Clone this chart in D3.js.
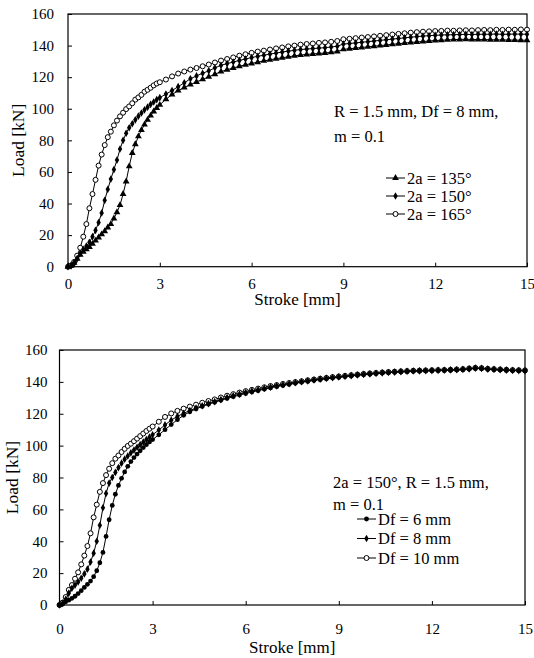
<!DOCTYPE html>
<html>
<head>
<meta charset="utf-8">
<script src="https://cdn.jsdelivr.net/npm/d3@7"></script>
<style>
  body { margin: 0; background: #fff; }
  svg text { font-family: "Liberation Serif", "Times New Roman", serif; fill: #000; }
</style>
</head>
<body>
<div id="chart"></div>
<script>
// Stroke positions (mm) shared by all curves
const stroke = [0, 0.1, 0.2, 0.3, 0.4, 0.5, 0.6, 0.7, 0.8, 0.9,
  1.0, 1.1, 1.2, 1.3, 1.4, 1.5, 1.6, 1.7, 1.8, 1.9,
  2.0, 2.1, 2.2, 2.3, 2.4, 2.5, 2.6, 2.7, 2.8, 2.9,
  3.0, 3.2, 3.4, 3.6, 3.8, 4.0, 4.2, 4.4, 4.6, 4.8,
  5.0, 5.2, 5.4, 5.6, 5.8, 6.0, 6.2, 6.4, 6.6, 6.8,
  7.0, 7.2, 7.4, 7.6, 7.8, 8.0, 8.2, 8.4, 8.6, 8.8,
  9.0, 9.2, 9.4, 9.6, 9.8, 10.0, 10.2, 10.4, 10.6, 10.8,
  11.0, 11.2, 11.4, 11.6, 11.8, 12.0, 12.2, 12.4, 12.6, 12.8,
  13.0, 13.2, 13.4, 13.6, 13.8, 14.0, 14.2, 14.4, 14.6, 14.8,
  15.0]

// Oberes Diagramm: Load [kN] fuer 2a = 135, 150, 165 Grad
const load135 = [0, 0.5, 2.5, 5, 7.5, 9.5, 11, 12.5, 14.5, 16.5,
  18.5, 20.5, 22.5, 24.8, 27, 30.5, 34.5, 39, 46, 54,
  63.5, 72, 77.5, 82.5, 86.5, 90, 93, 95.7, 98.3, 100.5,
  102.5, 106, 109, 111.5, 113.5, 115.3, 117, 118.6, 120.2, 121.9,
  123.5, 124.7, 125.8, 126.9, 127.8, 128.7, 129.5, 130.3, 131, 131.7,
  132.3, 132.9, 133.5, 134, 134.4, 134.7, 135, 135.3, 135.7, 136.2,
  137.6, 138, 138.4, 138.8, 139.2, 139.6, 140, 140.4, 140.8, 141.2,
  141.6, 142, 142.3, 142.6, 142.9, 143.2, 143.4, 143.6, 143.8, 143.9,
  144, 143.9, 143.8, 143.8, 143.7, 143.6, 143.6, 143.5, 143.5, 143.4,
  143.4]
const load150 = [0, 0.5, 2, 5, 8.5, 11, 13, 15.5, 19, 23,
  28, 34, 42, 49, 55.5, 61.5, 67.5, 74.5, 80, 84.5,
  88, 90.5, 93, 95.3, 97.3, 99.3, 101, 102.8, 104.3, 105.8,
  107, 109.3, 111.5, 114, 116.4, 119, 120.8, 122.5, 124, 125.9,
  127.5, 128.6, 129.6, 130.6, 131.5, 132.4, 133.2, 133.9, 134.6, 135.3,
  135.9, 136.5, 137, 137.5, 137.8, 138.1, 138.4, 138.7, 139.1, 139.6,
  141, 141.3, 141.7, 142.1, 142.5, 142.9, 143.3, 143.7, 144.1, 144.5,
  144.9, 145.3, 145.7, 146, 146.3, 146.5, 146.7, 146.8, 146.9, 147,
  147.1, 147, 147.2, 147.1, 147.2, 147.3, 147.1, 147.2, 147.3, 147.2,
  147.2]
const load165 = [0, 0.8, 3, 7, 12, 19, 27, 37, 46, 55,
  64, 71, 77, 82, 85.5, 89.5, 92.5, 95.2, 97.5, 99.8,
  101.5, 103.5, 105.8, 107.2, 108.8, 110.8, 112, 113.3, 114.8, 116,
  116.8, 118.5, 120.5, 122.3, 123.6, 124.8, 125.8, 126.9, 128, 129.3,
  130.5, 131.5, 132.5, 133.6, 134.5, 135.4, 136.2, 136.8, 137.5, 138.2,
  138.8, 139.5, 140, 140.6, 141, 141.3, 141.7, 142, 142.4, 142.9,
  144, 144.3, 144.7, 145.1, 145.4, 145.8, 146.2, 146.6, 147, 147.4,
  147.8, 148.2, 148.5, 148.8, 149, 149.2, 149.3, 149.5, 149.4, 149.6,
  149.7, 149.6, 149.8, 149.9, 149.8, 150, 149.9, 150.1, 150, 150.2,
  150.1]

// Unteres Diagramm: Load [kN] fuer Df = 6, 8, 10 mm
const loadDf6 = [0, 0.5, 2, 3, 4.2, 5.5, 7.2, 9, 11, 13,
  15, 17.8, 21.5, 26.5, 33, 43, 53.5, 62.5, 69.5, 75,
  79.5, 83.5, 87, 90, 92.5, 94.7, 96.8, 98.8, 100.6, 102.3,
  103.8, 106.8, 110, 113.2, 116.3, 119, 121.2, 123, 124.6, 126,
  127.2, 128.4, 129.6, 130.7, 131.7, 132.7, 133.6, 134.5, 135.4, 136.2,
  137, 137.7, 138.4, 139.1, 139.7, 140.3, 140.9, 141.4, 141.9, 142.4,
  142.8, 143.3, 143.7, 144.1, 144.5, 144.8, 145.2, 145.5, 145.8, 146,
  146.2, 146.4, 146.6, 146.7, 146.8, 147, 147.1, 147.2, 147.3, 147.4,
  147.6, 148, 148.4, 148.3, 147.9, 147.6, 147.4, 147.2, 147.1, 147,
  146.9]
const loadDf8 = [0, 1, 3.5, 7.5, 10.5, 12.5, 14.5, 16.8, 19.5, 22.5,
  27, 32.5, 40, 50, 61, 70, 76.5, 80, 83.2, 86.2,
  89, 91.5, 93.5, 95.5, 97.2, 99, 100.6, 102.2, 103.8, 105.3,
  106.8, 109.8, 113, 116, 118.4, 120.3, 122, 123.6, 125, 126.4,
  127.6, 128.9, 130.2, 131.3, 132.3, 133.3, 134.2, 135, 135.9, 136.7,
  137.5, 138.2, 138.8, 139.5, 140.1, 140.6, 141.2, 141.7, 142.2, 142.7,
  143.1, 143.5, 143.9, 144.3, 144.7, 145, 145.3, 145.6, 145.9, 146.1,
  146.4, 146.6, 146.8, 146.9, 147, 147.1, 147.2, 147.3, 147.5, 147.6,
  147.8, 148.2, 148.6, 148.5, 148, 147.8, 147.6, 147.4, 147.2, 147.1,
  147]
const loadDf10 = [0, 1.5, 5, 9.5, 12.5, 16.5, 20.5, 25.5, 31, 37,
  45, 55, 63, 71, 76.5, 81.5, 85.5, 89, 91.8, 93.8,
  96, 98, 99.8, 101.2, 102.8, 104.4, 106, 107.6, 109.2, 110.6,
  112, 115, 118, 120.2, 121.8, 123.2, 124.5, 125.7, 126.9, 128,
  129, 130.2, 131.3, 132.3, 133.3, 134.2, 135, 135.8, 136.6, 137.4,
  138, 138.7, 139.3, 139.9, 140.4, 141, 141.5, 142, 142.5, 143,
  143.4, 143.8, 144.2, 144.6, 145, 145.3, 145.6, 145.9, 146.2, 146.4,
  146.6, 146.8, 147, 147.1, 147.2, 147.3, 147.4, 147.5, 147.6, 147.8,
  148, 148.4, 148.8, 148.6, 148.2, 148, 147.8, 147.6, 147.4, 147.3,
  147.2]

// Achsenbeschriftungen
const xTicks = [0, 3, 6, 9, 12, 15]
const yTicks = [0, 20, 40, 60, 80, 100, 120, 140, 160]
const angleLabels = ["2a = 135°", "2a = 150°", "2a = 165°"]
const dfLabels = ["Df = 6 mm", "Df = 8 mm", "Df = 10 mm"]

const width = 534
const height = 658

let svg = d3.select("#chart")
    .append("svg")
    .attr("width", width)
    .attr("height", height)

// Marker-Formen
function marker(g, type, cx, cy) {
    if (type === "circle") {
        g.append("circle").attr("cx", cx).attr("cy", cy).attr("r", 2.5)
            .attr("fill", "#fff").attr("stroke", "#000").attr("stroke-width", 1)
    } else if (type === "dot") {
        g.append("circle").attr("cx", cx).attr("cy", cy).attr("r", 2.4)
            .attr("fill", "#000")
    } else {
        let sym = type === "triangle" ? d3.symbolTriangle : d3.symbolDiamond
        let size = type === "triangle" ? 20 : 17
        g.append("path")
            .attr("d", d3.symbol().type(sym).size(size)())
            .attr("transform", "translate(" + cx + "," + cy + ")")
            .attr("fill", "#000")
    }
}

function panel(p) {
    var x = d3.scaleLinear().domain([0, 15]).range([p.left, p.right])
    var y = d3.scaleLinear().domain([0, 160]).range([p.bottom, p.top])

    var g = svg.append("g")

    // Achsen
    var xa = g.append("g")
        .attr("transform", "translate(0," + p.bottom + ")")
        .call(d3.axisBottom(x).tickValues(xTicks).tickSize(-4).tickPadding(p.xPad))
    var ya = g.append("g")
        .attr("transform", "translate(" + p.left + ",0)")
        .call(d3.axisLeft(y).tickValues(yTicks).tickSize(-4).tickPadding(p.yPad))
    ;[xa, ya].forEach(function (a) {
        a.select(".domain").remove()
        a.attr("font-family", null).attr("font-size", 15)
        a.selectAll("line").attr("stroke", "#000")
    })

    // Rahmen
    g.append("rect")
        .attr("x", p.left).attr("y", p.top)
        .attr("width", p.right - p.left).attr("height", p.bottom - p.top)
        .attr("fill", "none").attr("stroke", "#000").attr("stroke-width", 1.2)

    // Kurven (offene Kreise zuerst, gefuellte Marker darueber)
    var line = d3.line()
        .x(function (d, i) { return x(stroke[i]) })
        .y(function (d) { return y(d) })

    p.series.slice().reverse().forEach(function (s) {
        g.append("path")
            .attr("d", line(s.values))
            .attr("fill", "none").attr("stroke", "#000").attr("stroke-width", 1)
        var mg = g.append("g")
        s.values.forEach(function (v, i) {
            marker(mg, s.type, x(stroke[i]), y(v))
        })
    })

    // Beschriftung der Achsen
    g.append("text")
        .attr("x", (p.left + p.right) / 2)
        .attr("y", p.bottom + p.xTitle)
        .attr("text-anchor", "middle")
        .attr("font-size", 17)
        .text("Stroke [mm]")
    g.append("text")
        .attr("transform", "translate(" + p.yTitleX + "," + (p.top + p.bottom) / 2 + ") rotate(-90)")
        .attr("text-anchor", "middle")
        .attr("dy", "0.35em")
        .attr("font-size", 17.5)
        .text("Load [kN]")

    // Parameter-Text
    p.notes.forEach(function (t, i) {
        g.append("text")
            .attr("x", p.noteX).attr("y", p.noteY + i * p.noteStep)
            .attr("font-size", 16.5)
            .text(t)
    })

    // Legende
    p.series.forEach(function (s, i) {
        var ly = p.legY + i * p.legStep
        g.append("line")
            .attr("x1", p.legX).attr("x2", p.legX + 19)
            .attr("y1", ly).attr("y2", ly)
            .attr("stroke", "#000")
        marker(g, s.type, p.legX + 9.5, ly)
        g.append("text")
            .attr("x", p.legX + 21).attr("y", ly)
            .attr("dy", "0.35em")
            .attr("font-size", 16.5)
            .text(s.label)
    })
}

panel({
    left: 68, right: 527, top: 14, bottom: 266.7,
    xPad: 12, yPad: 14, xTitle: 38, yTitleX: 18,
    series: [
        {values: load135, type: "triangle", label: angleLabels[0]},
        {values: load150, type: "diamond", label: angleLabels[1]},
        {values: load165, type: "circle", label: angleLabels[2]}
    ],
    notes: ["R = 1.5 mm, Df = 8 mm,", "m = 0.1"],
    noteX: 334, noteY: 117, noteStep: 25,
    legX: 386, legY: 178, legStep: 18
})

panel({
    left: 59.5, right: 525, top: 350, bottom: 605,
    xPad: 18, yPad: 12, xTitle: 48, yTitleX: 12,
    series: [
        {values: loadDf6, type: "dot", label: dfLabels[0]},
        {values: loadDf8, type: "diamond", label: dfLabels[1]},
        {values: loadDf10, type: "circle", label: dfLabels[2]}
    ],
    notes: ["2a = 150°, R = 1.5 mm,", "m = 0.1"],
    noteX: 333, noteY: 488, noteStep: 22,
    legX: 357, legY: 519, legStep: 19.5
})
</script>
</body>
</html>
